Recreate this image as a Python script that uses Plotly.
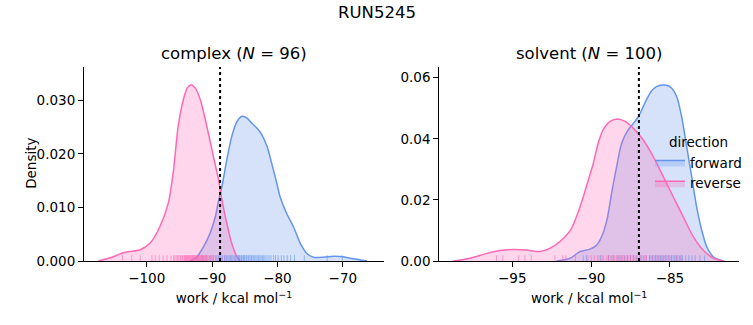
import plotly.graph_objects as go

# ---------------- data ----------------
suptitle = "RUN5245"
panel_titles = ["complex (<i>N</i> = 96)", "solvent (<i>N</i> = 100)"]
directions = ["forward", "reverse"]

# KDE curves (work, density)
cx_rev = [-107.4, -105.1, -103.6, -101.0, -99.5, -98.0, -96.7, -95.9, -95.2, -94.4, -93.8, -93.2,
          -92.6, -91.8, -90.8, -89.8, -89.0, -88.5, -87.75, -87.0, -86.2, -85.7]
cy_rev = [0, 0.0008, 0.00155, 0.0021, 0.0033, 0.0064, 0.0108, 0.0170, 0.0251, 0.0301, 0.0323, 0.0329,
          0.0323, 0.0301, 0.0251, 0.0195, 0.0151, 0.0114, 0.0070, 0.0033, 0.0008, 0]
cx_fwd = [-93.4, -92.3, -91.3, -90.3, -89.5, -89.0, -88.5, -87.75, -87.0, -86.2, -85.4, -84.7, -83.9,
          -83.15, -82.4, -81.6, -80.9, -80.1, -79.6, -78.6, -77.55, -76.5, -75.5, -74.5, -73.0, -71.4,
          -69.9, -68.4, -66.3]
cy_fwd = [0, 0.0008, 0.0027, 0.0052, 0.0083, 0.0114, 0.0139, 0.0189, 0.0232, 0.0260, 0.0270, 0.0267,
          0.0257, 0.0248, 0.0236, 0.0214, 0.0183, 0.0145, 0.0120, 0.0089, 0.0064, 0.0033, 0.0014,
          0.0007, 0.0007, 0.0009, 0.0008, 0.0004, 0]

sx_rev = [-98.74, -97.7, -96.6, -95.8, -94.94, -94.1, -93.24, -92.6, -92.0, -91.3, -90.7, -90.3,
          -89.86, -89.55, -89.23, -88.8, -88.32, -87.85, -87.33, -86.7, -86.06, -85.42, -84.8,
          -84.16, -83.52, -82.9, -82.25, -81.6]
sy_rev = [0, 0.0009, 0.0025, 0.0034, 0.0038, 0.0036, 0.0031, 0.0042, 0.0063, 0.0102, 0.0178, 0.0244,
          0.0320, 0.0386, 0.0430, 0.0457, 0.0465, 0.0457, 0.0435, 0.0397, 0.0342, 0.0276, 0.0211,
          0.0145, 0.0080, 0.0036, 0.0009, 0]
sx_fwd = [-92.2, -91.34, -90.7, -90.07, -89.65, -89.33, -89.0, -88.7, -88.38, -88.06, -87.64, -87.22,
          -86.97, -86.69, -86.38, -86.06, -85.63, -85.21, -84.9, -84.58, -84.26, -83.94, -83.62,
          -83.31, -82.99, -82.67, -82.25, -81.6]
sy_fwd = [0, 0.0009, 0.0031, 0.0039, 0.0052, 0.0080, 0.0134, 0.0222, 0.0309, 0.0386, 0.0430, 0.0457,
          0.0475, 0.0506, 0.0539, 0.0563, 0.0575, 0.0575, 0.0566, 0.0539, 0.0473, 0.0375, 0.0276,
          0.0178, 0.0102, 0.0047, 0.0014, 0]

# rug samples (work values)
rug_c_rev = [-103.7, -102.3, -101.0, -99.2, -98.7, -98.1, -97.5, -96.9, -96.3, -95.9, -95.7, -95.5,
             -95.3, -95.1, -94.9, -94.8, -94.6, -94.5, -94.3, -94.2, -94.1, -94.0, -93.9, -93.8,
             -93.7, -93.6, -93.5, -93.4, -93.3, -93.2, -93.1, -93.0, -92.9, -92.8, -92.7, -92.6,
             -92.5, -92.4, -92.3, -92.2, -92.1, -92.0, -91.9, -91.8, -91.7, -91.6, -91.5, -91.4,
             -91.3, -91.2, -91.1, -91.0, -90.9, -90.8, -90.6, -90.4, -90.2, -90.0, -89.8, -89.5,
             -89.2, -88.9, -88.5, -88.0]
rug_c_fwd = [-92.3, -91.5, -90.8, -90.2, -89.8, -89.4, -89.0, -88.7, -88.4, -88.1, -87.8, -87.6,
             -87.4, -87.2, -87.0, -86.8, -86.6, -86.4, -86.2, -86.0, -85.9, -85.8, -85.6, -85.5,
             -85.4, -85.2, -85.1, -85.0, -84.8, -84.7, -84.5, -84.4, -84.2, -84.0, -83.9, -83.7,
             -83.5, -83.3, -83.1, -82.9, -82.7, -82.5, -82.3, -82.1, -81.9, -81.6, -81.3, -81.0,
             -80.6, -80.3, -79.9, -79.4, -79.0, -78.5, -78.0, -77.4, -75.9, -72.4, -70.1]
rug_s_rev = [-96.0, -95.6, -94.6, -94.2, -93.8, -92.3, -91.8, -91.6, -91.0, -90.2, -90.0, -89.8,
             -89.6, -89.5, -89.3, -89.2, -89.0, -88.9, -88.8, -88.7, -88.6, -88.5, -88.4, -88.3,
             -88.2, -88.1, -88.0, -87.9, -87.8, -87.7, -87.6, -87.5, -87.4, -87.3, -87.2, -87.1,
             -86.9, -86.8, -86.6, -86.5, -86.3, -86.1, -85.9, -85.7, -85.5, -85.3, -85.1, -84.9,
             -84.6, -84.3]
rug_s_fwd = [-90.5, -90.3, -89.4, -88.9, -88.6, -88.3, -88.1, -87.9, -87.7, -87.5, -87.3, -87.1,
             -86.9, -86.7, -86.5, -86.3, -86.2, -86.1, -86.0, -85.9, -85.8, -85.7, -85.6, -85.5,
             -85.4, -85.3, -85.2, -85.1, -85.0, -84.9, -84.8, -84.7, -84.6, -84.5, -84.4, -84.3,
             -84.2, -84.0, -83.8, -83.6, -83.4, -83.1, -82.8]

# dotted reference lines (mean work)
vline_complex = -88.78
vline_solvent = -86.97

x_ranges = [[-109.6, -63.7], [-99.63, -80.62]]
y_ranges = [[0, 0.0362], [0, 0.0635]]
x_ticks = [[-100, -90, -80, -70], [-95, -90, -85]]
y_ticks = [[0, 0.01, 0.02, 0.03], [0, 0.02, 0.04, 0.06]]
y_fmt = [".3f", ".2f"]

# ---------------- styling ----------------
BLUE = "rgb(100,149,237)"
BLUE_F = "rgba(100,149,237,0.27)"
BLUE_R = "rgba(100,149,237,0.6)"
PINK = "rgb(255,105,180)"
PINK_F = "rgba(255,105,180,0.27)"
PINK_R = "rgba(255,105,180,0.6)"
FONT = "DejaVu Sans"
W, H = 753, 325
L, R, T, B = 84, 739, 67.3, 261   # plot-area pixel bounds
PW, PH = R - L, B - T

fig = go.Figure()

panels = [
    (cx_fwd, cy_fwd, cx_rev, cy_rev, rug_c_fwd, rug_c_rev, vline_complex),
    (sx_fwd, sy_fwd, sx_rev, sy_rev, rug_s_fwd, rug_s_rev, vline_solvent),
]

for i, (xf, yf, xr, yr, rf, rr, vl) in enumerate(panels):
    xa = "x" if i == 0 else "x2"
    ya = "y" if i == 0 else "y2"
    show = i == 1
    for xs, ys, col, fcol, name in [(xf, yf, BLUE, BLUE_F, "forward"), (xr, yr, PINK, PINK_F, "reverse")]:
        fig.add_trace(go.Scatter(
            x=xs, y=ys, mode="lines", name=name, fill="tozeroy", fillcolor=fcol,
            line=dict(color=col, width=1.5, shape="spline", smoothing=0.8),
            xaxis=xa, yaxis=ya, showlegend=show, legendgroup=name, hoverinfo="skip"))
    h = y_ranges[i][1] * 0.03
    for vals, col in [(rf, BLUE_R), (rr, PINK_R)]:
        rx, ry = [], []
        for v in vals:
            rx += [v, v, None]
            ry += [0, h, None]
        fig.add_trace(go.Scatter(x=rx, y=ry, mode="lines", line=dict(color=col, width=1),
                                 xaxis=xa, yaxis=ya, showlegend=False, hoverinfo="skip"))
    fig.add_trace(go.Scatter(x=[vl, vl], y=[0, y_ranges[i][1]], mode="lines",
                             line=dict(color="black", width=2, dash="dot"),
                             xaxis=xa, yaxis=ya, showlegend=False, hoverinfo="skip"))

x_domains = [[0, (384 - L) / PW], [(439.3 - L) / PW, 1]]

axis_common = dict(showline=True, linecolor="black", linewidth=1.1, ticks="outside",
                   ticklen=5, tickwidth=1.1, tickcolor="black", showgrid=False, zeroline=False,
                   automargin=False,
                   tickfont=dict(family=FONT, size=13.5, color="black"))

def px_to_paper_x(px):
    return (px - L) / PW

def px_to_paper_y(py):
    return (B - py) / PH

layout = dict(
    width=W, height=H, margin=dict(l=L, r=W - R, t=T, b=H - B, autoexpand=False),
    paper_bgcolor="white", plot_bgcolor="white",
    font=dict(family=FONT, size=13.5, color="black"),
    legend=dict(x=px_to_paper_x(650), y=px_to_paper_y(130), xanchor="left", yanchor="top",
                bgcolor="rgba(0,0,0,0)",
                title=dict(text="direction", side="top center", font=dict(family=FONT, size=13.5)),
                font=dict(family=FONT, size=13.5), itemwidth=30, tracegroupgap=0),
    annotations=[
        dict(text=suptitle, x=px_to_paper_x(376.5), y=px_to_paper_y(13), xref="paper", yref="paper",
             showarrow=False, font=dict(family=FONT, size=16.5), xanchor="center", yanchor="middle"),
        dict(text="Density", x=px_to_paper_x(31), y=px_to_paper_y(164), xref="paper", yref="paper",
             showarrow=False, textangle=-90, font=dict(family=FONT, size=13.5),
             xanchor="center", yanchor="middle"),
    ],
)
for i in range(2):
    sfx = "" if i == 0 else "2"
    layout["xaxis" + sfx] = dict(
        axis_common, domain=x_domains[i], range=x_ranges[i], tickvals=x_ticks[i],
        anchor="y" + sfx,
        title=dict(text="work / kcal mol<sup>−1</sup>", font=dict(family=FONT, size=13.5), standoff=8))
    layout["yaxis" + sfx] = dict(
        axis_common, domain=[0, 1], range=y_ranges[i], tickvals=y_ticks[i],
        tickformat=y_fmt[i], anchor="x" + sfx)
    layout["annotations"].append(dict(
        text=panel_titles[i], x=sum(x_domains[i]) / 2, y=px_to_paper_y(54), xref="paper", yref="paper",
        showarrow=False, font=dict(family=FONT, size=16.5), xanchor="center", yanchor="middle"))

fig.update_layout(**layout)
fig.write_html("out.html")
